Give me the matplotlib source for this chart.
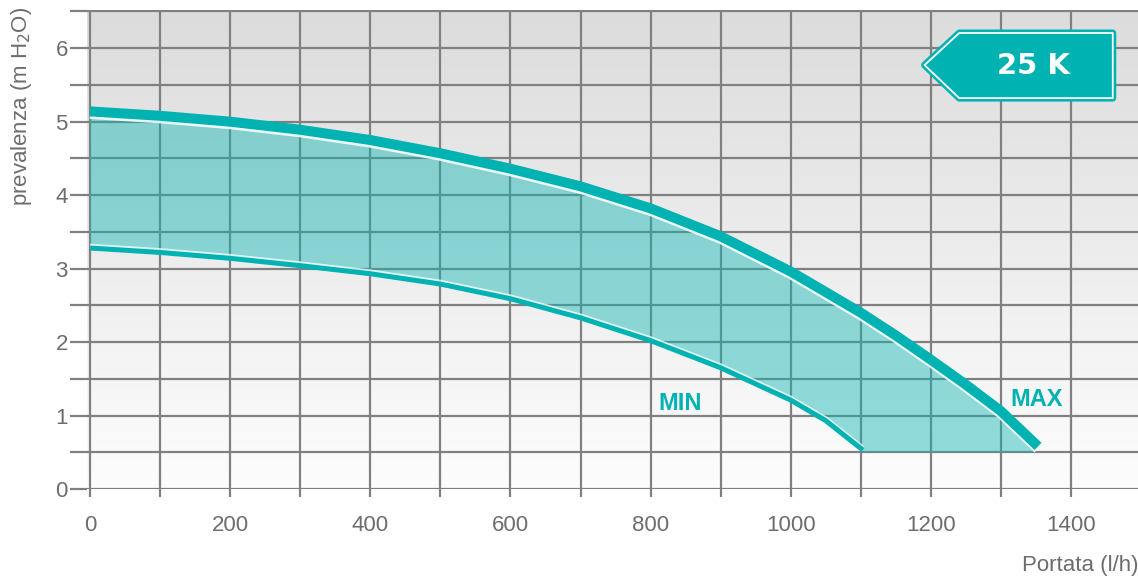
import numpy as np
import matplotlib
matplotlib.use("Agg")
import matplotlib.pyplot as plt
from matplotlib.patches import Polygon
import matplotlib.patheffects as pe

# curve values
max_x = [0, 100, 200, 300, 400, 500, 600, 700, 800, 900, 1000, 1100, 1150, 1200, 1250, 1300, 1353]
max_y = [5.14, 5.08, 5.0, 4.89, 4.75, 4.57, 4.36, 4.12, 3.82, 3.44, 2.96, 2.40, 2.09, 1.76, 1.42, 1.06, 0.58]
min_x = [0, 100, 200, 300, 400, 500, 600, 700, 800, 900, 1000, 1050, 1103]
min_y = [3.28, 3.22, 3.14, 3.04, 2.93, 2.79, 2.59, 2.33, 2.02, 1.65, 1.21, 0.93, 0.53]
fill_floor = 0.5
x_ticks = [0, 200, 400, 600, 800, 1000, 1200, 1400]
y_ticks = [0, 1, 2, 3, 4, 5, 6]
tag_text = "25 K"

teal = "#00b2b2"
grid_col = "#808080"
txt_col = "#6d6d6d"

plt.rcParams["font.family"] = ["Liberation Sans", "DejaVu Sans"]

fig = plt.figure(figsize=(11.38, 5.78), dpi=100)
W, H = 1138, 578
ax = fig.add_axes([86.5 / W, 1 - 489 / H, (W - 86.5) / W, 479 / H])
ax.set_xlim(-5, 1495.6)
ax.set_ylim(0, 6.52)

# vertical gradient background
grad = np.linspace(253, 220, 256).reshape(-1, 1) / 255.0
ax.imshow(np.dstack([grad, grad, grad]), extent=[0, 1, 0, 1], transform=ax.transAxes,
          aspect="auto", origin="lower", zorder=0)

# ticks / grid
ax.set_xticks(x_ticks)
ax.set_xticks(np.arange(0, 1500, 100), minor=True)
ax.set_yticks(y_ticks)
ax.set_yticks(np.arange(0.5, 6.6, 1.0), minor=True)
ax.grid(True, which="both", color=grid_col, linewidth=1.6)
ax.set_axisbelow(True)
for s in ax.spines.values():
    s.set_visible(False)
ax.tick_params(axis="x", which="both", length=6, width=1.6, color=grid_col, direction="out",
               pad=13, labelsize=16, labelcolor=txt_col)
ax.tick_params(axis="y", which="both", length=12, width=1.6, color=grid_col, direction="out",
               pad=1.5, labelsize=16, labelcolor=txt_col)

# filled band between MIN and MAX
poly_x = list(max_x) + [max_x[-1] - 8, min_x[-1]] + list(min_x[::-1])
poly_y = list(max_y) + [fill_floor, fill_floor] + list(min_y[::-1])
ax.fill(poly_x, poly_y, color="#10b5b5", alpha=0.45, lw=0, zorder=1)

# thin white highlight on the fill side of each curve
ax.plot(max_x, np.array(max_y) - 0.035, color="white", lw=7.2, alpha=0.85, solid_capstyle="butt",
        solid_joinstyle="round", zorder=2)
ax.plot(max_x, max_y, color=teal, lw=7.2, solid_capstyle="butt", solid_joinstyle="round", zorder=3)
ax.plot(min_x, np.array(min_y) + 0.025, color="white", lw=3.6, alpha=0.75, solid_capstyle="butt",
        solid_joinstyle="round", zorder=2)
ax.plot(min_x, min_y, color=teal, lw=3.6, solid_capstyle="butt", solid_joinstyle="round", zorder=3)

ax.text(842, 1.17, "MIN", color=teal, fontsize=17, fontweight="bold", ha="center", va="center", zorder=4)
ax.text(1351, 1.22, "MAX", color=teal, fontsize=17, fontweight="bold", ha="center", va="center", zorder=4)

# tag box
tip = (0.797, 0.885)
bl, br, bt, bb = 0.830, 0.976, 0.952, 0.816
tag = Polygon([tip, (bl, bt), (br, bt), (br, bb), (bl, bb)], closed=True, transform=ax.transAxes,
              facecolor=teal, edgecolor="white", lw=1.3, joinstyle="round", zorder=5)
tag.set_path_effects([pe.Stroke(linewidth=5, foreground=teal), pe.Normal()])
ax.add_patch(tag)
ax.text((bl + br) / 2 - 0.002, (bt + bb) / 2, tag_text, transform=ax.transAxes, color="white",
        fontsize=21, fontweight="bold", family="DejaVu Sans", ha="center", va="center", zorder=6)

fig.text(22 / W, 1 - 106 / H, "prevalenza (m H$_2$O)", rotation=90, ha="center", va="center",
         fontsize=16, color=txt_col)
fig.text(1022 / W, 1 - 565 / H, "Portata (l/h)", ha="left", va="center", fontsize=16, color=txt_col)

fig.savefig("out.png", dpi=100)
